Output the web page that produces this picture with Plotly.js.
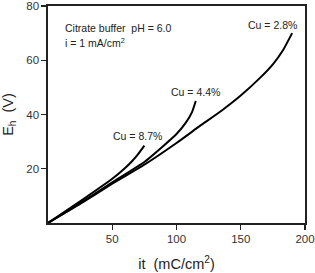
<!DOCTYPE html>
<html>
<head>
<meta charset="utf-8">
<script src="https://cdn.plot.ly/plotly-3.0.1.min.js"></script>
<style>html,body{margin:0;padding:0;background:#fff;}#chart{width:315px;height:273px;}</style>
</head>
<body>
<div id="chart"></div>
<script>
// Cu = 2.8%
const x28 = [0, 25, 50, 75, 100, 118, 135, 150, 165, 175, 183, 190];
const y28 = [0, 7, 14.5, 21.5, 29.5, 35.7, 41.4, 47, 53.5, 58.5, 63.8, 70];
// Cu = 4.4%
const x44 = [0, 25, 50, 75, 90, 100, 107, 112, 115];
const y44 = [0, 7.3, 15, 22.5, 28.5, 32.8, 36.8, 40.8, 45];
// Cu = 8.7%
const x87 = [0, 25, 50, 60, 65, 70, 75];
const y87 = [0, 8, 16.3, 20.3, 22.6, 25.3, 28.5];

const seriesLabels = ["Cu = 2.8%", "Cu = 4.4%", "Cu = 8.7%"];
const xTicks = [50, 100, 150, 200];
const yTicks = [20, 40, 60, 80];

const font = "Liberation Sans, Arial, sans-serif";
const lineStyle = {color: "#000", width: 2, shape: "spline", smoothing: 0.5};

const traces = [
  {x: x28, y: y28, mode: "lines", line: lineStyle, name: seriesLabels[0]},
  {x: x44, y: y44, mode: "lines", line: lineStyle, name: seriesLabels[1]},
  {x: x87, y: y87, mode: "lines", line: lineStyle, name: seriesLabels[2]}
];

const annFont = {family: font, size: 10.5, color: "#222"};
const layout = {
  width: 315, height: 273,
  margin: {l: 48, r: 10, t: 6, b: 50},
  paper_bgcolor: "#fff", plot_bgcolor: "#fff",
  showlegend: false,
  xaxis: {
    range: [0, 200.01], tickvals: xTicks, ticktext: xTicks.map(String),
    showgrid: false, zeroline: false,
    showline: true, linecolor: "#222", linewidth: 1.6, mirror: true,
    ticks: "outside", ticklen: 5, tickwidth: 1.2, tickcolor: "#222",
    tickfont: {family: font, size: 11.5, color: "#333"},
    title: {text: "it  (mC/cm<sup>2</sup>)", font: {family: font, size: 14.5, color: "#222"}, standoff: 14}
  },
  yaxis: {
    range: [0, 80.01], tickvals: yTicks, ticktext: yTicks.map(String),
    showgrid: false, zeroline: false,
    showline: true, linecolor: "#222", linewidth: 1.6, mirror: true,
    ticks: "outside", ticklen: 5, tickwidth: 1.2, tickcolor: "#222",
    tickfont: {family: font, size: 11.5, color: "#333"},
    title: {text: "E<sub>h</sub>  (V)", font: {family: font, size: 14.5, color: "#222"}, standoff: 12}
  },
  annotations: [
    {x: 11.5, y: 71.8, xref: "x", yref: "y", text: "Citrate buffer  pH = 6.0", showarrow: false, xanchor: "left", yanchor: "middle", font: annFont},
    {x: 11.5, y: 66.5, xref: "x", yref: "y", text: "i = 1 mA/cm<sup>2</sup>", showarrow: false, xanchor: "left", yanchor: "middle", font: annFont},
    {x: 174.5, y: 73, xref: "x", yref: "y", text: seriesLabels[0], showarrow: false, xanchor: "center", yanchor: "middle", font: annFont},
    {x: 115, y: 48.3, xref: "x", yref: "y", text: seriesLabels[1], showarrow: false, xanchor: "center", yanchor: "middle", font: annFont},
    {x: 70, y: 32.2, xref: "x", yref: "y", text: seriesLabels[2], showarrow: false, xanchor: "center", yanchor: "middle", font: annFont}
  ]
};

Plotly.newPlot("chart", traces, layout, {displayModeBar: false, staticPlot: true});
</script>
</body>
</html>
